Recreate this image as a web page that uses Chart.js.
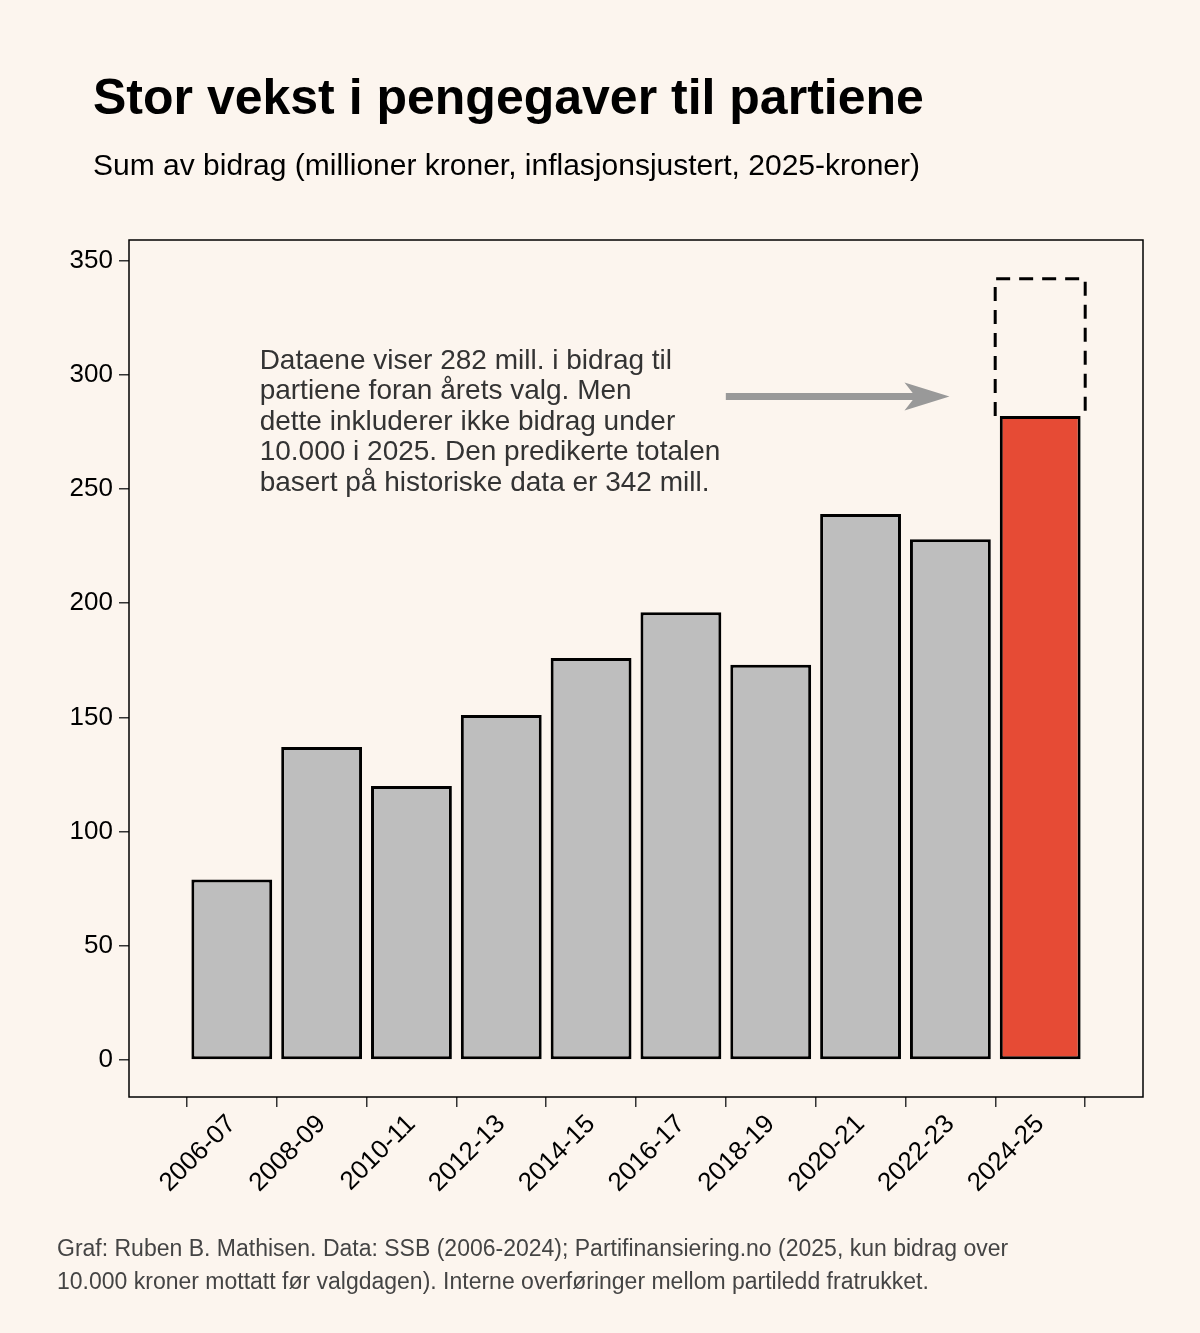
<!DOCTYPE html>
<html><head><meta charset="utf-8">
<script src="https://cdn.jsdelivr.net/npm/chart.js@4"></script>
<style>body{margin:0;background:#fcf5ee}</style>
</head><body><canvas id="c" width="1200" height="1333"></canvas>
<script>
// data
const PERIODS=['2006-07','2008-09','2010-11','2012-13','2014-15','2016-17','2018-19','2020-21','2022-23','2024-25'];
const BIDRAG=[79,137,120,151,176,196,173,239,228,282];
const PREDIKERT=342;
const Y_TICKS=[0,50,100,150,200,250,300,350];
const NOTE=['Dataene viser 282 mill. i bidrag til','partiene foran årets valg. Men','dette inkluderer ikke bidrag under','10.000 i 2025. Den predikerte totalen','basert på historiske data er 342 mill.'];
const FONT='"Liberation Sans", Arial, sans-serif';

const deco={id:'deco',
  beforeDraw(ch){
    const c=ch.ctx;c.save();c.fillStyle='#fcf5ee';c.fillRect(0,0,ch.width,ch.height);c.restore();
  },
  afterDraw(ch){
    const c=ch.ctx,a=ch.chartArea,x=ch.scales.x,y=ch.scales.y;
    c.save();
    // panel frame
    c.strokeStyle='#000';c.lineWidth=1.5;c.strokeRect(a.left,a.top,a.right-a.left,a.bottom-a.top);
    // dashed predicted box
    const last=PERIODS.length-1,hw=45;
    const xl=x.getPixelForValue(last)-hw,xr=x.getPixelForValue(last)+hw;
    const yt=y.getPixelForValue(PREDIKERT),yb=y.getPixelForValue(BIDRAG[last]);
    c.setLineDash([14,9]);c.lineWidth=3;c.beginPath();
    c.moveTo(xl,yb);c.lineTo(xl,yt);c.lineTo(xr,yt);c.lineTo(xr,yb);c.stroke();c.setLineDash([]);
    // note text
    c.fillStyle='#333';c.font='28px '+FONT;c.textBaseline='middle';
    const tx=x.getPixelForValue(0.31);
    NOTE.forEach((t,i)=>c.fillText(t,tx,y.getPixelForValue(306)+i*30.5));
    // arrow
    const ay=y.getPixelForValue(290.5),ax1=x.getPixelForValue(5.5),ax2=x.getPixelForValue(7.99);
    c.strokeStyle='#999';c.fillStyle='#999';c.lineWidth=7;c.beginPath();c.moveTo(ax1,ay);c.lineTo(ax2-30,ay);c.stroke();
    c.beginPath();c.moveTo(ax2,ay);c.lineTo(ax2-45,ay-14);c.lineTo(ax2-34,ay);c.lineTo(ax2-45,ay+14);c.closePath();c.fill();
    // titles
    c.fillStyle='#000';c.textBaseline='alphabetic';
    c.font='bold 50px '+FONT;c.fillText('Stor vekst i pengegaver til partiene',93,114);
    c.font='30px '+FONT;c.fillText('Sum av bidrag (millioner kroner, inflasjonsjustert, 2025-kroner)',93,175);
    c.fillStyle='#444';c.font='23px '+FONT;
    c.fillText('Graf: Ruben B. Mathisen. Data: SSB (2006-2024); Partifinansiering.no (2025, kun bidrag over',57,1256);
    c.fillText('10.000 kroner mottatt før valgdagen). Interne overføringer mellom partiledd fratrukket.',57,1289);
    c.restore();
  }};

new Chart(document.getElementById('c'),{type:'bar',
  data:{datasets:[{data:BIDRAG.map((v,i)=>({x:i,y:v})),
    backgroundColor:BIDRAG.map((v,i)=>i===BIDRAG.length-1?'#e64b35':'#bebebe'),
    borderColor:'#000',borderWidth:3,borderSkipped:false,barPercentage:0.9,categoryPercentage:1}]},
  options:{responsive:false,animation:false,devicePixelRatio:1,
    layout:{padding:{top:240,right:57,bottom:116,left:0}},
    plugins:{legend:{display:false},tooltip:{enabled:false}},
    scales:{
      x:{type:'linear',min:-0.58,max:9.58,afterBuildTicks:s=>{s.ticks=PERIODS.map((_,i)=>({value:i}));},
        afterFit:s=>{s.height=120;},
        grid:{drawOnChartArea:false,drawTicks:true,tickLength:10,color:'#333',lineWidth:1.5},border:{display:false},
        ticks:{maxRotation:45,minRotation:45,color:'#000',font:{family:FONT,size:26},padding:2,callback:v=>PERIODS[v]}},
      y:{min:-16.2,max:359,afterBuildTicks:s=>{s.ticks=Y_TICKS.map(v=>({value:v}));},
        afterFit:s=>{s.width=129;},
        grid:{drawOnChartArea:false,drawTicks:true,tickLength:10,color:'#333',lineWidth:1.5},border:{display:false},
        ticks:{color:'#000',font:{family:FONT,size:26},padding:6}}
    }},
  plugins:[deco]});
</script>
</body></html>
